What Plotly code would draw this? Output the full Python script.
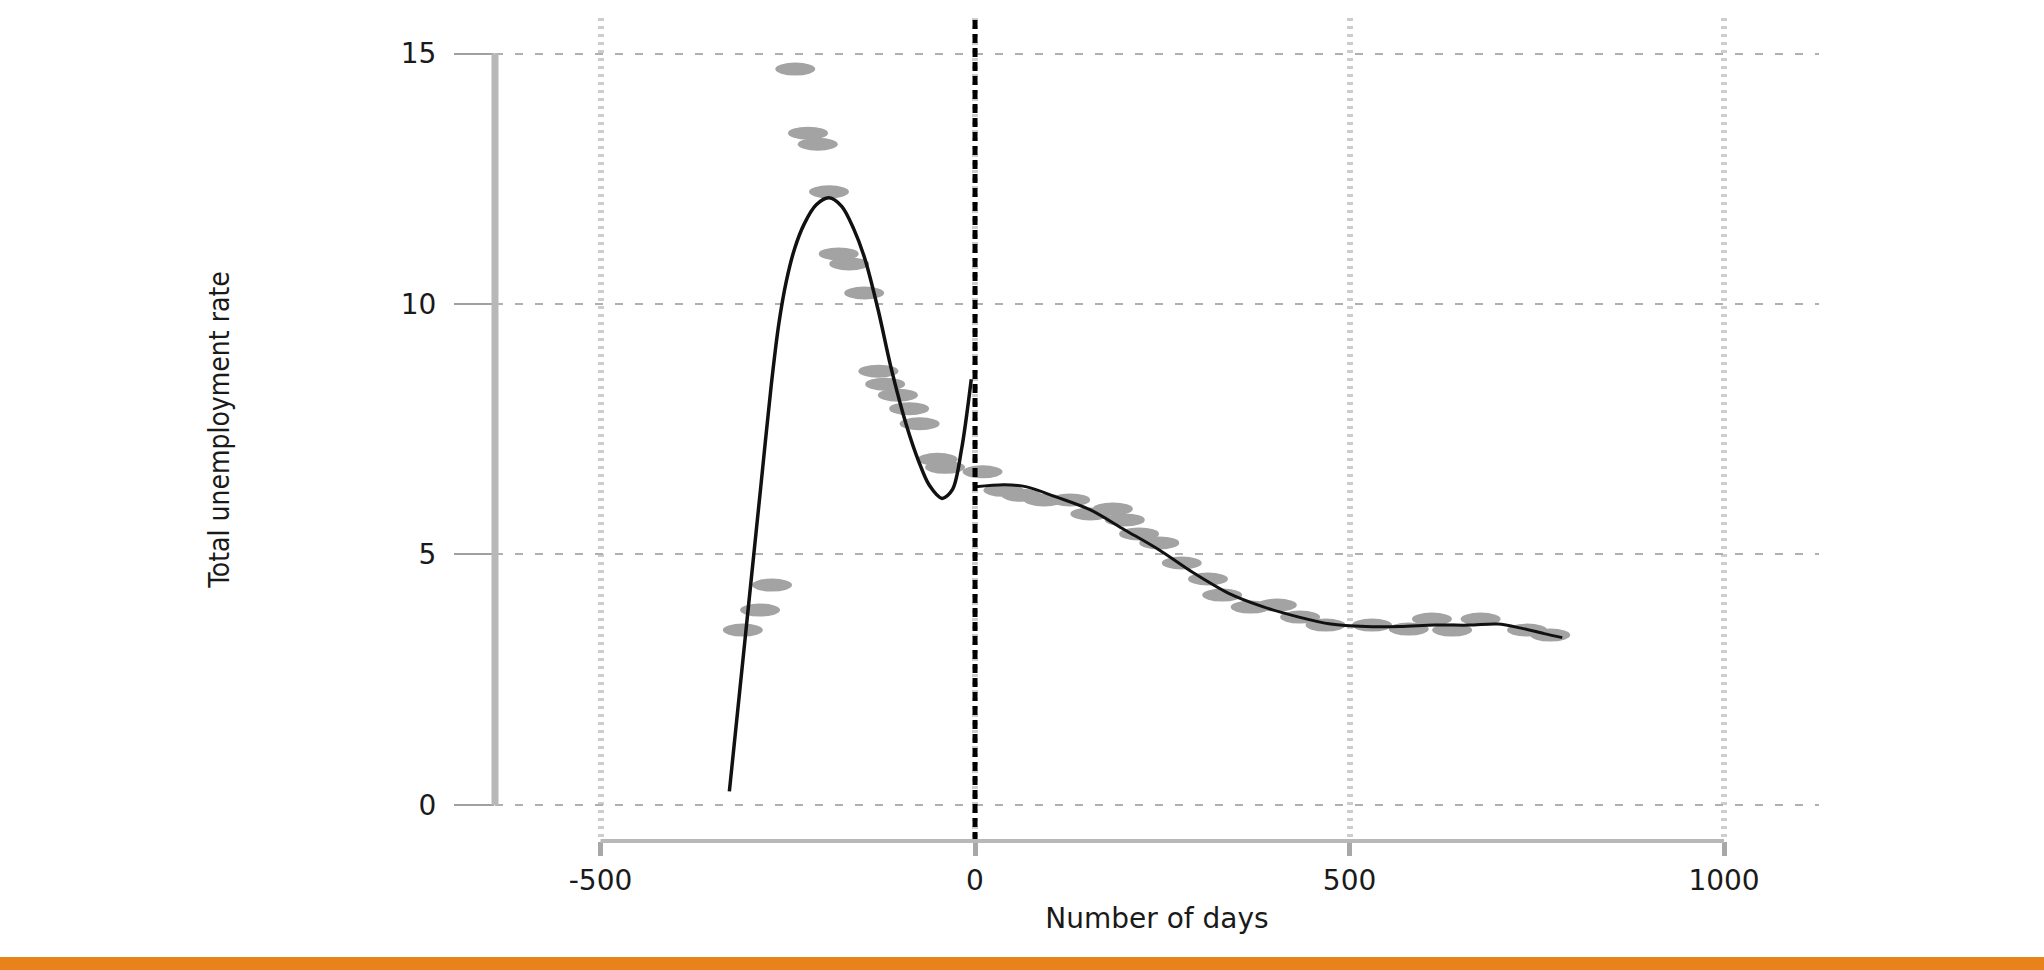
import plotly.graph_objects as go

# ---- data ----
# scatter points (days, rate)
pts_days = [-310, -287, -271, -240, -223, -210, -195, -182, -168, -148, -129, -120, -103, -88, -74,
            -50, -40, 10, 38, 62, 92, 127, 154, 184, 200, 219, 246, 276, 311, 330, 368, 403, 434,
            468, 530, 579, 610, 637, 675, 737, 768]
pts_rate = [3.49, 3.89, 4.39, 14.69, 13.41, 13.19, 12.24, 11.00, 10.80, 10.22, 8.66, 8.40, 8.18, 7.91, 7.61,
            6.90, 6.74, 6.65, 6.28, 6.18, 6.09, 6.09, 5.81, 5.91, 5.69, 5.41, 5.23, 4.83, 4.51, 4.19, 3.95, 3.99, 3.75,
            3.59, 3.59, 3.51, 3.71, 3.49, 3.71, 3.49, 3.39]

# fitted curve before day 0
fit_pre_days = [-328, -314, -300, -286, -272, -262, -252, -241, -228, -212, -195, -178, -162,
                -147, -129, -112, -92, -75, -61, -44, -30, -18, -5]
fit_pre_rate = [0.27, 2.30, 4.33, 6.36, 8.39, 9.60, 10.45, 11.10, 11.60, 11.98, 12.12, 11.95, 11.50,
                10.90, 9.86, 8.72, 7.60, 6.85, 6.38, 6.12, 6.30, 7.10, 8.50]

# fitted curve after day 0
fit_post_days = [1, 39, 69, 108, 154, 200, 246, 292, 338, 384, 430, 475, 522, 567, 614, 660, 698, 729, 760, 784]
fit_post_rate = [6.35, 6.39, 6.35, 6.15, 5.89, 5.49, 5.09, 4.63, 4.23, 3.96, 3.76, 3.61, 3.56, 3.56, 3.59,
                 3.59, 3.61, 3.53, 3.42, 3.34]

x_ticks = [-500, 0, 500, 1000]
y_ticks = [0, 5, 10, 15]
cutoff_day = 0

# ---- layout geometry (pixels) ----
W, H = 2044, 970
L, R, T, B = 495, 225, 18, 129
plot_w = W - L - R
plot_h = H - T - B
plot_bottom_px = T + plot_h
x_range = [-640.9, 1126.8]
y_range = [-0.72, 15.71]

def px_x(v):  # data -> paper
    return (v - x_range[0]) / (x_range[1] - x_range[0])

def px_y(v):
    return (v - y_range[0]) / (y_range[1] - y_range[0])

x_per_px = (x_range[1] - x_range[0]) / plot_w
y_per_px = (y_range[1] - y_range[0]) / plot_h

fig = go.Figure()

# gray markers (drawn as ellipses through the data axes)
ell_half_w = 20 * x_per_px
ell_half_h = 6.5 * y_per_px
shapes = []
for d, r in zip(pts_days, pts_rate):
    shapes.append(dict(type="circle", xref="x", yref="y",
                       x0=d - ell_half_w, x1=d + ell_half_w,
                       y0=r - ell_half_h, y1=r + ell_half_h,
                       fillcolor="#a3a3a3", line=dict(width=0), layer="between"))

fig.add_trace(go.Scatter(x=pts_days, y=pts_rate, mode="markers",
                         marker=dict(size=11, color="#a3a3a3"), showlegend=False,
                         hoverinfo="x+y"))

fig.add_trace(go.Scatter(x=fit_pre_days, y=fit_pre_rate, mode="lines",
                         line=dict(color="#111111", width=3.5, shape="spline", smoothing=0.9),
                         showlegend=False))
fig.add_trace(go.Scatter(x=fit_post_days, y=fit_post_rate, mode="lines",
                         line=dict(color="#111111", width=3, shape="spline", smoothing=0.9),
                         showlegend=False))

# cutoff dashed line
shapes.append(dict(type="line", xref="x", yref="paper", x0=cutoff_day, x1=cutoff_day, y0=0, y1=1,
                   line=dict(color="#000000", width=5, dash="9px,5px"), layer="above"))

# Stata-style axis lines spanning only the tick range
shapes.append(dict(type="line", xref="paper", yref="paper",
                   x0=0, x1=0, y0=px_y(y_ticks[0]), y1=px_y(y_ticks[-1]),
                   line=dict(color="#b8b8b8", width=7), layer="above"))
shapes.append(dict(type="line", xref="paper", yref="paper",
                   x0=px_x(x_ticks[0]), x1=px_x(x_ticks[-1]), y0=0, y1=0,
                   line=dict(color="#b8b8b8", width=4), layer="above"))

# orange footer band
shapes.append(dict(type="rect", xref="paper", yref="paper",
                   x0=(0 - L) / plot_w, x1=(W - L) / plot_w,
                   y0=(plot_bottom_px - 957) / plot_h, y1=(plot_bottom_px - 972) / plot_h,
                   fillcolor="#e8821a", line=dict(width=0), layer="above"))

tick_font = dict(family="DejaVu Sans, Arial, sans-serif", size=28, color="#1a1a1a")

fig.update_layout(
    width=W, height=H, autosize=False,
    margin=dict(l=L, r=R, t=T, b=B, pad=0),
    paper_bgcolor="white", plot_bgcolor="white",
    shapes=shapes,
    showlegend=False,
    xaxis=dict(range=x_range, tickvals=x_ticks, ticktext=[str(v) for v in x_ticks],
               showline=False, zeroline=False,
               showgrid=True, gridcolor="#cdcdcd", gridwidth=6, griddash="3px,5px",
               ticks="outside", ticklen=14, tickwidth=5, tickcolor="#a8a8a8",
               tickfont=tick_font,
               title=dict(text="Number of days",
                          font=dict(family="DejaVu Sans, Arial, sans-serif", size=28, color="#1a1a1a"),
                          standoff=12)),
    yaxis=dict(range=y_range, tickvals=y_ticks, ticktext=[str(v) for v in y_ticks],
               showline=False, zeroline=False,
               showgrid=True, gridcolor="#b0b0b0", gridwidth=2, griddash="8px,12px",
               ticks="outside", ticklen=40, tickwidth=2, tickcolor="#a0a0a0",
               ticklabelstandoff=12,
               tickfont=dict(family="DejaVu Sans, Arial, sans-serif", size=28, color="#1a1a1a"),
               title=dict(text="Total unemployment rate",
                          font=dict(family="Liberation Sans Narrow, DejaVu Sans Condensed, Arial, sans-serif",
                                    size=28, color="#1a1a1a"),
                          standoff=162)),
)

fig.write_html("out.html")
